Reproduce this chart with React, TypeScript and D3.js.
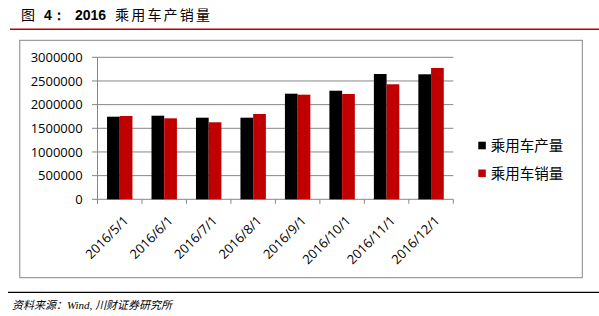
import React from "react";
import * as d3 from "d3";

const categories = ["2016/5/1", "2016/6/1", "2016/7/1", "2016/8/1", "2016/9/1", "2016/10/1", "2016/11/1", "2016/12/1"];
const seriesNames = ["乘用车产量", "乘用车销量"];
const production = [1745000, 1766000, 1724000, 1724000, 2231000, 2294000, 2647000, 2641000];
const sales = [1760000, 1711000, 1627000, 1802000, 2210000, 2225000, 2430000, 2774000];
const yTicks = [0, 500000, 1000000, 1500000, 2000000, 2500000, 3000000];
const colors = ["#000000", "#C00000"];

const W = 599;
const H = 316;

export default function App() {
  const x0 = d3.scaleBand<string>().domain(categories).range([97.5, 453.3]).paddingInner(0).paddingOuter(0);
  const x1 = d3.scaleBand<string>().domain(seriesNames).range([0, x0.bandwidth()]).paddingInner(0).paddingOuter(0.75);
  const y = d3.scaleLinear().domain([0, 3000000]).range([199.3, 57.3]);
  const values = [production, sales];
  const axisColor = "#868686";
  const tickFont = "'Open Sans', 'Liberation Sans', sans-serif";
  const cjk = "'Noto Sans CJK SC', sans-serif";

  return (
    <div style={{ position: "absolute", left: 0, top: 0 }}>
      <svg width={W} height={H} style={{ display: "block", background: "#fff" }}>
        {/* Title */}
        <text y={19.5} fontSize={14} fill="#000">
          <tspan x={21} fontFamily={cjk}>图</tspan>
          <tspan x={44} fontFamily="'Liberation Sans', sans-serif" fontWeight="bold">4：</tspan>
          <tspan x={75} fontFamily="'Liberation Sans', sans-serif" fontWeight="bold">2016</tspan>
          <tspan x={115} fontFamily={cjk} letterSpacing={2.2}>乘用车产销量</tspan>
        </text>
        <line x1={10} x2={599} y1={29.2} y2={29.2} stroke="#C00000" strokeWidth={1.6} />

        {/* Chart frame */}
        <rect x={19.8} y={40.3} width={562.5} height={237.4} fill="none" stroke={axisColor} strokeWidth={1} />

        {/* Gridlines */}
        {yTicks.map((t) => (
          <line key={"g" + t} x1={92} x2={453.3} y1={y(t)} y2={y(t)} stroke={axisColor} strokeWidth={1} />
        ))}
        {/* Y axis */}
        <line x1={97.5} x2={97.5} y1={y(3000000)} y2={y(0)} stroke={axisColor} strokeWidth={1} />
        {yTicks.map((t) => (
          <text
            key={"yl" + t}
            x={82.7}
            y={y(t)}
            dy="0.36em"
            textAnchor="end"
            fontFamily={tickFont}
            fontSize={13}
            fill="#000"
          >
            {t}
          </text>
        ))}

        {/* Bars */}
        {categories.map((c, i) => (
          <g key={c} transform={`translate(${x0(c)},0)`}>
            {seriesNames.map((s, j) => (
              <rect
                key={s}
                x={x1(s)}
                y={y(values[j][i])}
                width={x1.bandwidth()}
                height={y(0) - y(values[j][i])}
                fill={colors[j]}
              />
            ))}
          </g>
        ))}

        {/* X axis ticks */}
        {categories.map((c) => (
          <line key={"xt" + c} x1={x0(c)} x2={x0(c)} y1={y(0)} y2={y(0) + 4.5} stroke={axisColor} />
        ))}
        <line x1={453.3} x2={453.3} y1={y(0)} y2={y(0) + 4.5} stroke={axisColor} />

        {/* X labels */}
        {categories.map((c) => {
          const cx = (x0(c) as number) + x0.bandwidth() / 2 + 3;
          const cy = 215;
          return (
            <text
              key={"xl" + c}
              transform={`translate(${cx},${cy}) rotate(-45)`}
              textAnchor="end"
              dy="0.7em"
              fontFamily={tickFont}
              fontSize={13}
              fill="#000"
            >
              {c}
            </text>
          );
        })}

        {/* Legend */}
        {seriesNames.map((s, j) => (
          <g key={"lg" + s} transform={`translate(478.3, ${145.5 + j * 27.8})`}>
            <rect x={0} y={-3.8} width={7.5} height={7.6} fill={colors[j]} />
            <text x={12.4} y={0} dy="0.36em" fontFamily={cjk} fontSize={14.5} fill="#000">
              {s}
            </text>
          </g>
        ))}

        {/* Footer */}
        <line x1={8} x2={599} y1={292.3} y2={292.3} stroke="#000" strokeWidth={1.2} />
        <text x={12} y={309} fontSize={11} fontStyle="italic" fill="#000">
          <tspan fontFamily={cjk}>资料来源：</tspan>
          <tspan fontFamily="'Liberation Serif', serif">Wind, </tspan>
          <tspan fontFamily={cjk}>川财证券研究所</tspan>
        </text>
      </svg>
    </div>
  );
}
